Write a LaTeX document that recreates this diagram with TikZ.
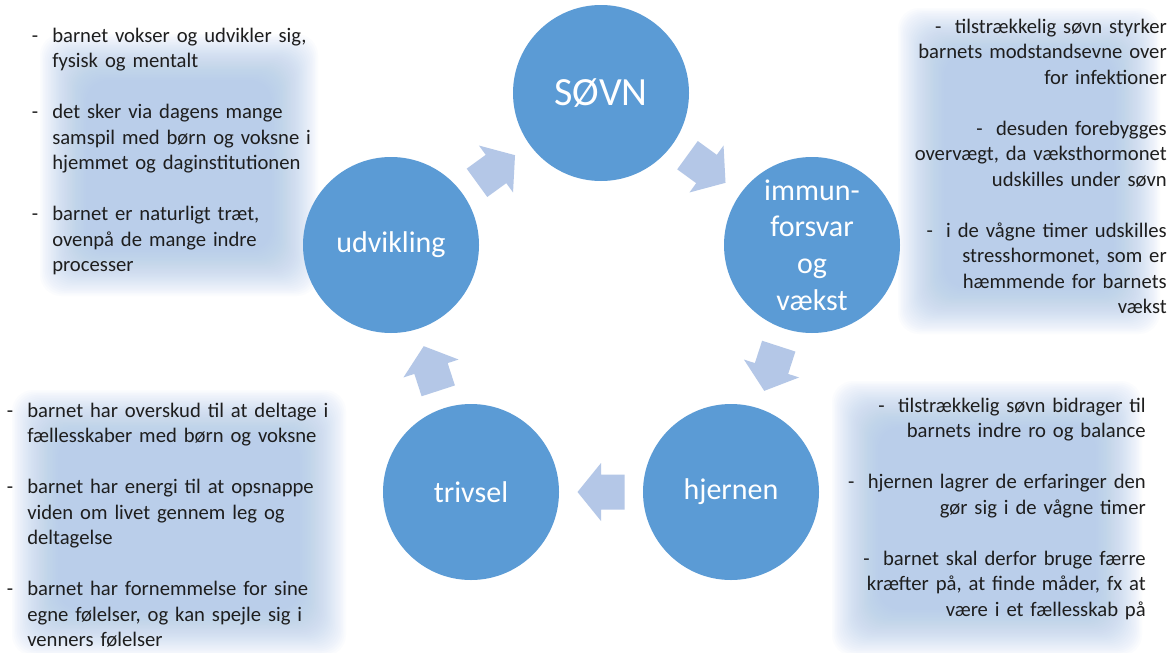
\documentclass[tikz,border=0pt]{standalone}
\usepackage{fontspec}
\setmainfont{Carlito}
\usetikzlibrary{calc}
\definecolor{circblue}{RGB}{91,155,213}
\definecolor{arrowblue}{RGB}{180,199,231}
\definecolor{glowblue}{RGB}{170,199,234}
\definecolor{txtcol}{RGB}{30,30,30}
\newcommand{\dashitem}{\leavevmode\llap{-\hspace{10.5pt}}}
\begin{document}
\begin{tikzpicture}[x=0.75pt,y=-0.75pt,
  ring/.style={circle, fill=circblue, minimum size=132pt, inner sep=0pt,
    text=white, font=\fontsize{22.5pt}{27.4pt}\selectfont, align=center},
  blockarrow/.pic={\fill[arrowblue] (-23.5,-17.5) -- (0,-17.5) -- (0,-29)
    -- (23.5,0) -- (0,29) -- (0,17.5) -- (-23.5,17.5) -- cycle;},
  notes/.style={text=txtcol, font=\fontsize{15.5pt}{19.125pt}\selectfont,
    inner sep=0pt, text width=250pt},
  glowlayer/.style={fill=glowblue, opacity=0.042, rounded corners=16pt}
]
\useasboundingbox (0,0) rectangle (1174,653);
\fill[white] (0,0) rectangle (1174,653);

% soft backgrounds of the text blocks
\foreach \k in {0,...,29} {
  \fill[glowlayer] (40+\k*1.6, 34+\k*1.6) rectangle (318-\k*1.6, 296-\k*1.6);
  \fill[glowlayer] (898+\k*1.6, 8+\k*1.6) rectangle (1160-\k*1.6, 334-\k*1.6);
  \fill[glowlayer] (12+\k*1.6, 390+\k*1.6) rectangle (346-\k*1.6, 656-\k*1.6);
  \fill[glowlayer] (832+\k*1.6, 381+\k*1.6) rectangle (1142-\k*1.6, 656-\k*1.6);
}

% circles
\node[ring, font=\fontsize{30pt}{36pt}\selectfont] (soevn) at (601,93) {SØVN};
\node[ring] (immun) at (812,245) {immun-\\forsvar\\og\\vækst};
\node[ring] (hjernen) at (731,492) {hjernen};
\node[ring] (trivsel) at (471,492) {trivsel};
\node[ring] (udvikling) at (391,245) {udvikling};

% block arrows
\pic[rotate=36] at ($(udvikling)!0.5!(soevn)$) {blockarrow};
\pic[rotate=-36] at ($(soevn)!0.5!(immun)$) {blockarrow};
\pic[rotate=-108] at ($(immun)!0.5!(hjernen)$) {blockarrow};
\pic[rotate=180] at ($(hjernen)!0.5!(trivsel)$) {blockarrow};
\pic[rotate=108] at ($(trivsel)!0.5!(udvikling)$) {blockarrow};

% text blocks
\node[notes, anchor=base west, align=left] (tl) at (52,42)
 {\dashitem barnet vokser og udvikler sig,\\
  fysisk og mentalt\\[19.125pt]
  \dashitem det sker via dagens mange\\
  samspil med børn og voksne i\\
  hjemmet og daginstitutionen\\[19.125pt]
  \dashitem barnet er naturligt træt,\\
  ovenpå de mange indre\\
  processer};

\node[notes, anchor=base east, align=right] (tr) at (1167,33)
 {-\hspace{10pt}tilstrækkelig søvn styrker\\
  barnets modstandsevne over\\
  for infektioner\\[19.125pt]
  -\hspace{10pt}desuden forebygges\\
  overvægt, da væksthormonet\\
  udskilles under søvn\\[19.125pt]
  -\hspace{10pt}i de vågne timer udskilles\\
  stresshormonet, som er\\
  hæmmende for barnets\\
  vækst};

\node[notes, anchor=base west, align=left] (bl) at (27,417)
 {\dashitem barnet har overskud til at deltage i\\
  fællesskaber med børn og voksne\\[19.125pt]
  \dashitem barnet har energi til at opsnappe\\
  viden om livet gennem leg og\\
  deltagelse\\[19.125pt]
  \dashitem barnet har fornemmelse for sine\\
  egne følelser, og kan spejle sig i\\
  venners følelser};

\node[notes, anchor=base east, align=right] (br) at (1146,412)
 {-\hspace{10pt}tilstrækkelig søvn bidrager til\\
  barnets indre ro og balance\\[19.125pt]
  -\hspace{10pt}hjernen lagrer de erfaringer den\\
  gør sig i de vågne timer\\[19.125pt]
  -\hspace{10pt}barnet skal derfor bruge færre\\
  kræfter på, at finde måder, fx at\\
  være i et fællesskab på};
\end{tikzpicture}
\end{document}
